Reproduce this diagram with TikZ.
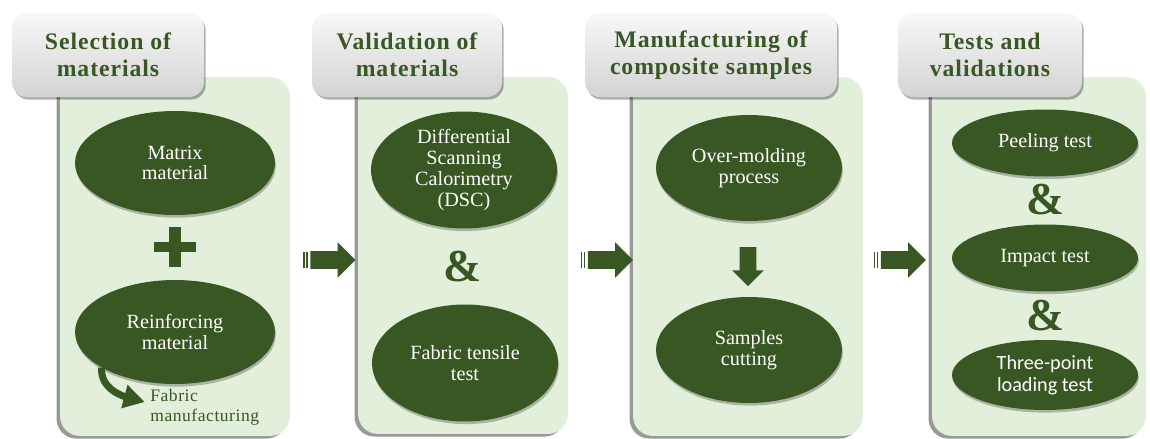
\documentclass[tikz,border=0pt]{standalone}
\usepackage{fontspec}
\setmainfont{Liberation Serif}
\newfontfamily\carlitofont{Carlito}
\usetikzlibrary{shapes.geometric,shapes.arrows,shadows,arrows.meta}
\definecolor{darkgreen}{HTML}{385723}
\definecolor{panelgreen}{HTML}{E2EFDA}
\definecolor{headertop}{HTML}{F8F8F8}
\definecolor{headerbottom}{HTML}{D3D3D3}
\begin{document}
\begin{tikzpicture}[
				x=0.02cm, y=-0.02cm,
				every node/.style={font=\fontsize{11.5}{11.8}\selectfont},
				panel/.style={rectangle, rounded corners=0.4cm, fill=panelgreen, minimum height=7.18cm,
					drop shadow={shadow xshift=-2pt, shadow yshift=-1.5pt, opacity=0.4, fill=black}},
				header/.style={rectangle, rounded corners=0.3cm, top color=headertop, bottom color=headerbottom,
					minimum height=1.68cm, align=center, text=darkgreen,
					font=\bfseries\fontsize{13.5}{15.2}\selectfont\addfontfeatures{LetterSpace=4},
					drop shadow={shadow xshift=1pt, shadow yshift=-1.5pt, opacity=0.3, fill=black}},
				oval/.style={ellipse, fill=darkgreen, text=white, align=center, inner sep=0, minimum width=3.72cm,
					drop shadow={shadow xshift=0.5pt, shadow yshift=-1.5pt, opacity=0.25, fill=black}},
				amp/.style={text=darkgreen, font=\bfseries\fontsize{26}{26}\selectfont, inner sep=0},
				flowarrow/.style={single arrow, fill=darkgreen, inner sep=0.17cm, minimum width=0.7cm, minimum height=0.9cm,
					single arrow head extend=0.18cm},
				curvedarrow/.style={draw=darkgreen, line width=4pt, -{Triangle[length=12pt, width=13pt]}},
			]
			\useasboundingbox (0,0) rectangle (1150,439);
			% panels
			\node[panel, minimum width=4.6cm] (panel1) at (175,256.5) {};
			\node[panel, minimum width=4.2cm, minimum height=7.14cm] (panel2) at (463,255.5) {};
			\node[panel, minimum width=4.6cm] (panel3) at (748,256.5) {};
			\node[panel, minimum width=4.28cm] (panel4) at (1039,256.5) {};
			\node[header, minimum width=3.84cm] (head1) at (108,55) {Selection of\\materials};
			\node[header, minimum width=3.8cm] (head2) at (407,55) {Validation of\\materials};
			\node[header, minimum width=5.04cm] (head3) at (711,55) {Manufacturing of\\composite samples};
			\node[header, minimum width=3.68cm] (head4) at (990,55) {Tests and\\validations};
			% arrows between panels
			\node[flowarrow] (arrow1) at (328.5,260) {};
			\node[flowarrow] (arrow2) at (606,260) {};
			\node[flowarrow] (arrow3) at (899,260) {};
			\foreach \a in {arrow1,arrow2,arrow3}{
				\fill[darkgreen] ([xshift=-3.8pt,yshift=-4.8pt]\a.tail) rectangle ([xshift=-2.9pt,yshift=4.8pt]\a.tail);
				\fill[darkgreen] ([xshift=-2.3pt,yshift=-4.8pt]\a.tail) rectangle ([xshift=-1.4pt,yshift=4.8pt]\a.tail);
			}
			% selection of materials
			\node[oval, minimum width=4cm, minimum height=2.08cm] (matrix) at (175,163) {Matrix\\material};
			\coordinate (plus) at (175,247);
			\fill[darkgreen] ([xshift=-12.2pt,yshift=-3.1pt]plus) rectangle ([xshift=12.2pt,yshift=3.1pt]plus);
			\fill[darkgreen] ([xshift=-3.4pt,yshift=-11.3pt]plus) rectangle ([xshift=3.4pt,yshift=11.3pt]plus);
			\node[oval, minimum width=4cm, minimum height=2.08cm] (reinf) at (175,332) {Reinforcing\\material};
			\node[anchor=north west, align=left, inner sep=0, text=darkgreen,
				font=\fontsize{10}{11.3}\selectfont\addfontfeatures{LetterSpace=3}]
				(fabric) at (150,389) {Fabric\\manufacturing};
			\draw[curvedarrow] (reinf.206) to[out=-95, in=165] ([xshift=-3pt,yshift=3pt]fabric.west);
			% validation of materials
			\node[oval, minimum height=2.34cm] (dsc) at (464,170) {Differential\\Scanning\\Calorimetry\\(DSC)};
			\node[amp] (amp1) at (463,267) {\&};
			\node[oval, minimum height=2.34cm] (tensile) at (465,363) {Fabric tensile\\test};
			% manufacturing of composite samples
			\node[oval, minimum height=2.12cm] (molding) at (749,168) {Over-molding\\process};
			\node[flowarrow, shape border rotate=270, inner sep=0.16cm, minimum width=0.62cm, minimum height=0.78cm,
				single arrow head extend=0.15cm] (down) at (748,262.5) {};
			\node[oval, minimum height=2.12cm] (cutting) at (749,350) {Samples\\cutting};
			% tests and validations
			\node[oval, minimum height=1.34cm] (peeling) at (1045,143) {Peeling test};
			\node[amp] (amp2) at (1046,200) {\&};
			\node[oval, minimum height=1.34cm] (impact) at (1045,258) {Impact test};
			\node[amp] (amp3) at (1046,316) {\&};
			\node[oval, minimum height=1.4cm, font=\carlitofont\fontsize{11.5}{12.5}\selectfont] (loading) at (1045,375)
				{Three-point\\loading test};
			\end{tikzpicture}
\end{document}
